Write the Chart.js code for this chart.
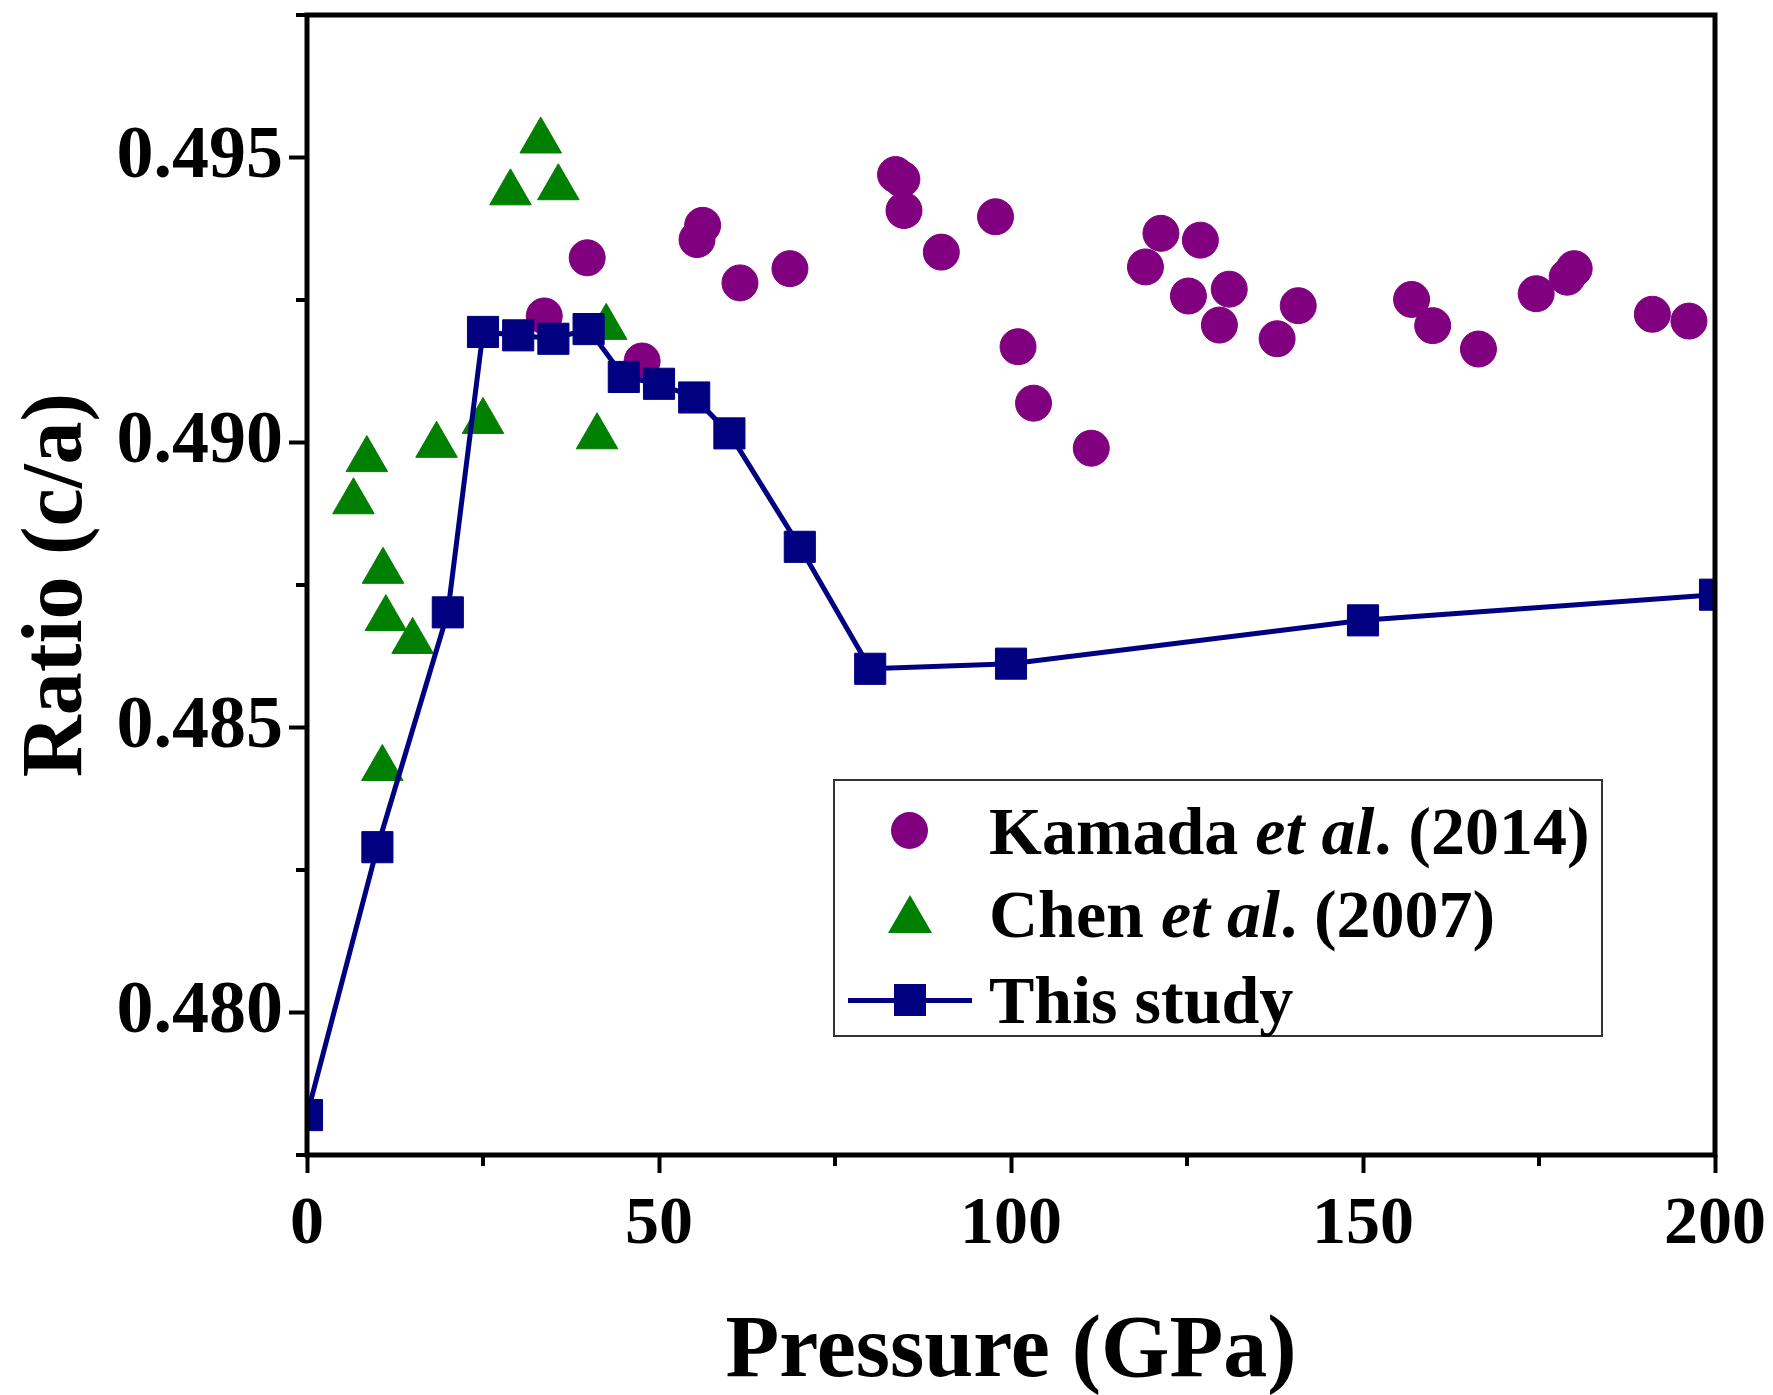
<!DOCTYPE html>
<html>
<head>
<meta charset="utf-8">
<script src="https://cdn.jsdelivr.net/npm/chart.js@4.4.1/dist/chart.umd.min.js"></script>
<style>
    body { margin: 0; background: #fff; }
    #wrap { position: relative; width: 1773px; height: 1395px; }
    #legend {
        position: absolute; left: 833px; top: 779px; width: 770px; height: 258px;
        box-sizing: border-box; border: 2px solid #333; background: #fff;
        font-family: "Liberation Serif", "Times New Roman", serif;
        font-weight: bold; font-size: 68px; color: #000;
    }
    .row { position: absolute; left: 0; width: 100%; height: 80px; line-height: 80px; white-space: nowrap; }
    .mark { position: absolute; }
    .label { position: absolute; left: 154px; top: 0; }
</style>
</head>
<body>
<div id="wrap">
    <canvas id="ratioChart" width="1773" height="1395"></canvas>
    <div id="legend">
        <div class="row" style="top:10px">
            <span class="mark" style="left:56px;top:21px;width:37px;height:37px;border-radius:50%;background:#800080"></span>
            <span class="label">Kamada <i>et al</i>. (2014)</span>
        </div>
        <div class="row" style="top:93px">
            <span class="mark" style="left:53px;top:21px;width:0;height:0;border-left:22px solid transparent;border-right:22px solid transparent;border-bottom:38px solid #008000"></span>
            <span class="label">Chen <i>et al</i>. (2007)</span>
        </div>
        <div class="row" style="top:179px">
            <span class="mark" style="left:13px;top:38px;width:124px;height:5px;background:#000080"></span>
            <span class="mark" style="left:59px;top:24px;width:32px;height:32px;background:#000080"></span>
            <span class="label">This study</span>
        </div>
    </div>
</div>
<script>
// This study (line + squares)
const thisStudyPressure = [0, 10, 20, 25, 30, 35, 40, 45, 50, 55, 60, 70, 80, 100, 150, 200];
const thisStudyRatio = [0.47820, 0.48290, 0.48702, 0.49194, 0.49188, 0.49182, 0.49199, 0.49115,
    0.49103, 0.49079, 0.49016, 0.48817, 0.48603, 0.48612, 0.48688, 0.48733];

// Chen et al. (2007) (triangles)
const chenPressure = [6.6, 8.5, 10.8, 11.2, 15.0, 10.7, 18.4, 25.0, 28.9, 33.2, 35.7, 41.2, 42.5];
const chenRatio = [0.48896, 0.48970, 0.48774, 0.48691, 0.48651, 0.48428, 0.48995, 0.49037,
    0.49438, 0.49529, 0.49447, 0.49010, 0.49202];

// Kamada et al. (2014) (circles)
const kamadaPressure = [33.7, 39.8, 47.6, 55.4, 56.2, 61.5, 68.6, 83.6, 84.5, 84.8, 90.1, 97.8,
    101.0, 103.2, 111.4, 119.1, 121.3, 125.2, 126.9, 129.6, 131.0, 137.8, 140.8, 156.9, 159.9,
    166.4, 174.6, 179.0, 180.0, 191.1, 196.3];
const kamadaRatio = [0.49222, 0.49324, 0.49143, 0.49356, 0.49381, 0.49280, 0.49305, 0.49470,
    0.49462, 0.49407, 0.49334, 0.49396, 0.49168, 0.49069, 0.48990, 0.49308, 0.49367, 0.49257,
    0.49355, 0.49206, 0.49269, 0.49182, 0.49240, 0.49251, 0.49205, 0.49164, 0.49261, 0.49290,
    0.49305, 0.49225, 0.49213];

// axis ticks
const xTicks = [0, 50, 100, 150, 200];
const xMinorTicks = [25, 75, 125, 175];
const yTicks = [0.480, 0.485, 0.490, 0.495];
const yMinorTicks = [0.4775, 0.4825, 0.4875, 0.4925, 0.4975];

const fontFamily = '"Liberation Serif", "Times New Roman", serif';

const toPoints = (xs, ys) => xs.map((v, i) => ({ x: v, y: ys[i] }));

/**
 * Draws the box frame and the short minor ticks.
 */
const frameAndMinorTicks = {
    id: 'frameAndMinorTicks',
    afterDraw(chart) {
        const { ctx, chartArea: { left, right, top, bottom }, scales: { x, y } } = chart;
        ctx.save();
        ctx.strokeStyle = '#000';
        ctx.lineWidth = 5;
        ctx.strokeRect(left, top, right - left, bottom - top);

        ctx.lineWidth = 4;
        ctx.beginPath();
        xMinorTicks.forEach(v => {
            const px = x.getPixelForValue(v);
            ctx.moveTo(px, bottom);
            ctx.lineTo(px, bottom + 11);
        });
        yMinorTicks.forEach(v => {
            const py = y.getPixelForValue(v);
            ctx.moveTo(left, py);
            ctx.lineTo(left - 11, py);
        });
        ctx.stroke();
        ctx.restore();
    }
};

const ctx = document.getElementById('ratioChart').getContext('2d');
const ratioChart = new Chart(ctx, {
    type: 'scatter',
    data: {
        datasets: [{
            label: 'This study',
            data: toPoints(thisStudyPressure, thisStudyRatio),
            showLine: true,
            borderColor: '#000080',
            borderWidth: 5,
            backgroundColor: '#000080',
            pointStyle: 'rect',
            pointRadius: 22,
            pointBorderWidth: 1,
            pointBorderColor: '#000080',
            clip: 0,
            order: 0
        }, {
            label: 'Chen et al. (2007)',
            data: toPoints(chenPressure, chenRatio),
            backgroundColor: '#008000',
            borderColor: '#008000',
            pointStyle: 'triangle',
            pointRadius: 24,
            pointBorderWidth: 1,
            clip: 0,
            order: 1
        }, {
            label: 'Kamada et al. (2014)',
            data: toPoints(kamadaPressure, kamadaRatio),
            backgroundColor: '#800080',
            borderColor: '#800080',
            pointStyle: 'circle',
            pointRadius: 18,
            pointBorderWidth: 1,
            clip: 0,
            order: 2
        }]
    },
    options: {
        responsive: false,
        devicePixelRatio: 1,
        animation: false,
        layout: { autoPadding: false, padding: { top: 15, right: 58, left: 0, bottom: 0 } },
        plugins: {
            legend: { display: false },
            tooltip: { enabled: false }
        },
        scales: {
            x: {
                type: 'linear',
                min: 0,
                max: 200,
                afterBuildTicks: scale => { scale.ticks = xTicks.map(v => ({ value: v })); },
                afterFit: scale => { scale.height = 240; scale.paddingLeft = 0; scale.paddingRight = 0; },
                border: { display: false },
                grid: { drawOnChartArea: false, drawTicks: true, tickLength: 18, tickWidth: 4, tickColor: '#000' },
                ticks: {
                    color: '#000',
                    padding: 18,
                    maxRotation: 0,
                    font: { family: fontFamily, size: 68, weight: 'bold', lineHeight: 1 }
                },
                title: {
                    display: true,
                    text: 'Pressure (GPa)',
                    color: '#000',
                    padding: { top: 0, bottom: 2 },
                    font: { family: fontFamily, size: 88, weight: 'bold', lineHeight: 0.9 }
                }
            },
            y: {
                type: 'linear',
                min: 0.4775,
                max: 0.4975,
                afterBuildTicks: scale => { scale.ticks = yTicks.map(v => ({ value: v })); },
                afterFit: scale => { scale.width = 307; scale.paddingTop = 0; scale.paddingBottom = 0; },
                border: { display: false },
                grid: { drawOnChartArea: false, drawTicks: true, tickLength: 18, tickWidth: 4, tickColor: '#000' },
                ticks: {
                    color: '#000',
                    padding: 6,
                    callback: v => v.toFixed(3),
                    font: { family: fontFamily, size: 74, weight: 'bold', lineHeight: 1 }
                },
                title: {
                    display: true,
                    text: 'Ratio (c/a)',
                    color: '#000',
                    padding: { top: 16, bottom: 0 },
                    font: { family: fontFamily, size: 86, weight: 'bold', lineHeight: 1 }
                }
            }
        }
    },
    plugins: [frameAndMinorTicks]
});
</script>
</body>
</html>
